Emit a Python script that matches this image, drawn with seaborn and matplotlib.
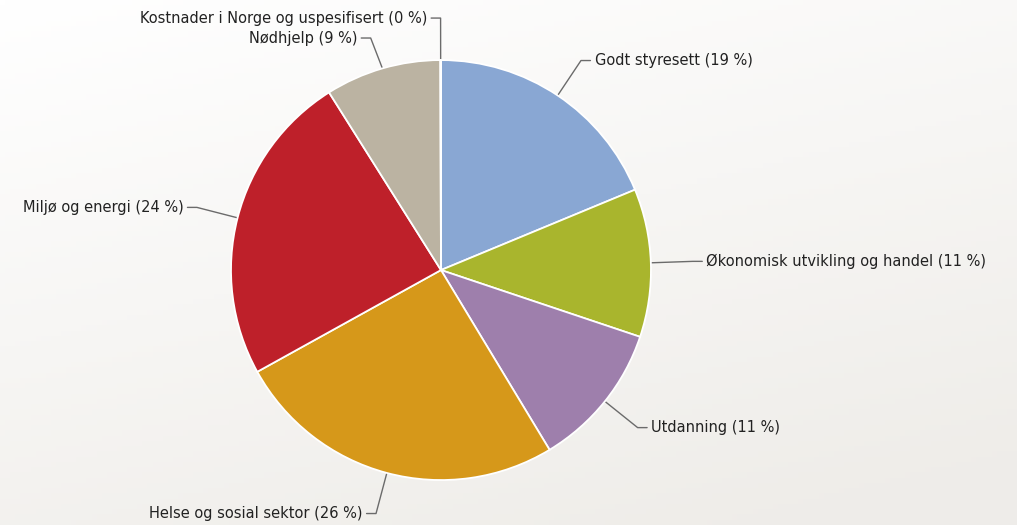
import numpy as np
import matplotlib
matplotlib.use("Agg")
import matplotlib.pyplot as plt
import seaborn as sns

# slice data, clockwise from the top
categories = [
    "Godt styresett",
    "Økonomisk utvikling og handel",
    "Utdanning",
    "Helse og sosial sektor",
    "Miljø og energi",
    "Nødhjelp",
    "Kostnader i Norge og uspesifisert",
]
shares = [18.75, 11.4, 11.2, 25.6, 24.1, 8.9, 0.05]
colors = ["#89A7D3", "#A9B52D", "#9E7FAC", "#D6981A", "#BE202A", "#BBB3A2", "#C8C8C8"]

sns.set_theme(style="white")
plt.rcParams["font.family"] = ["DejaVu Sans"]

fig = plt.figure(figsize=(10.17, 5.25), dpi=100)

# soft background gradient
bg = fig.add_axes([0, 0, 1, 1], zorder=0)
gx, gy = np.meshgrid(np.linspace(0, 1, 200), np.linspace(0, 1, 100))
grad = np.clip(0.35 * gx + 0.75 * gy, 0, 1)
top = np.array([1.0, 1.0, 1.0])
bot = np.array([0.937, 0.929, 0.914])
img = top + (bot - top) * grad[..., None]
bg.imshow(img, aspect="auto", extent=[0, 1, 0, 1])
bg.axis("off")

ax = fig.add_axes([0, 0, 1, 1], zorder=1)
ax.patch.set_alpha(0)
wedges, _ = ax.pie(
    shares,
    colors=colors,
    startangle=90,
    counterclock=False,
    radius=1.0,
    wedgeprops=dict(edgecolor="white", linewidth=1.3),
)
ax.set_xlim(-2.1, 2.743)
ax.set_ylim(-1.214, 1.286)
ax.set_aspect("equal")
ax.axis("off")

# label placement with simple overlap avoidance
R = 1.2
mids = [np.deg2rad((w.theta1 + w.theta2) / 2) for w in wedges]
ys = [R * np.sin(m) for m in mids]
sides = [1 if np.cos(m) > 0.01 else -1 for m in mids]
left = sorted([i for i in range(len(mids)) if sides[i] < 0], key=lambda i: -ys[i])
limit = 1.2
for i in left:
    ys[i] = min(ys[i], limit)
    limit = ys[i] - 0.095

for i, m in enumerate(mids):
    side = sides[i]
    ex, ey = np.cos(m), np.sin(m)
    bx, by = R * np.cos(m), ys[i]
    hx = bx + side * 0.045
    ax.plot([ex, bx, hx], [ey, by, by], color="#6b6b6b", lw=1.0, zorder=0)
    label = f"{categories[i]} ({round(shares[i]):d} %)"
    ax.text(hx + side * 0.02, by, label, ha="left" if side > 0 else "right",
            va="center", fontsize=10.5, color="#222222")

fig.savefig("out.png", dpi=100)
plt.close(fig)
